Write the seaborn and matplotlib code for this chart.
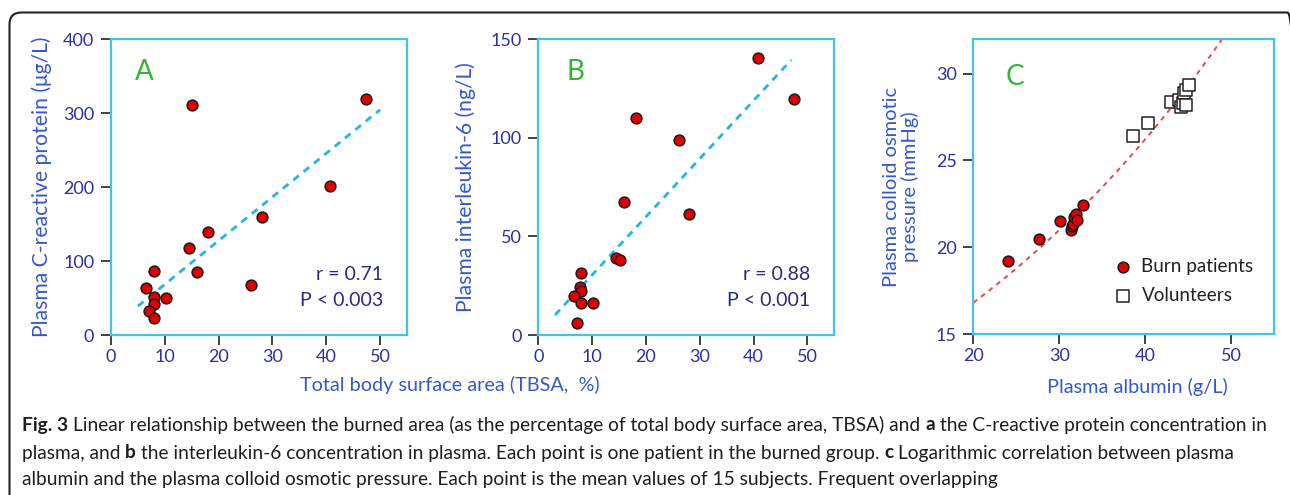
import numpy as np
import matplotlib
matplotlib.use("Agg")
import matplotlib.pyplot as plt
import seaborn as sns
from matplotlib.patches import FancyBboxPatch
from matplotlib.transforms import Affine2D

# ---------------- data ----------------
tbsa_a = [15.1, 47.4, 40.7, 28.0, 18.1, 14.5, 8.0, 15.9, 26.0, 6.5, 8.0, 10.2, 8.0, 7.1, 8.0]
crp_a = [311, 319, 202, 159, 139, 118, 87, 85, 67, 64, 52, 50, 42, 32, 23]
fit_a_range = [5, 50]
fit_a_slope, fit_a_intercept = 5.9, 9.5
stats_a = ["r = 0.71", "P < 0.003"]

tbsa_b = [40.9, 47.5, 18.1, 26.1, 16.0, 28.0, 14.5, 15.2, 7.9, 7.7, 8.0, 6.6, 7.9, 10.1, 7.1]
il6_b = [140.2, 119.8, 110.1, 98.8, 67.4, 61.3, 39.2, 37.8, 31.3, 24.3, 22.5, 19.6, 16.4, 16.4, 6.0]
fit_b_range = [3.1, 47.0]
fit_b_slope, fit_b_intercept = 2.945, 1.0
stats_b = ["r = 0.88", "P < 0.001"]

alb_burn = [24.0, 27.6, 30.1, 31.4, 31.5, 31.6, 31.7, 32.0, 32.1, 32.8]
cop_burn = [19.22, 20.48, 21.5, 21.0, 21.2, 21.35, 21.77, 21.92, 21.58, 22.45]
alb_vol = [38.6, 40.3, 43.0, 44.0, 44.2, 44.4, 44.5, 44.8, 44.8, 45.1]
cop_vol = [26.4, 27.17, 28.38, 28.5, 28.07, 28.3, 28.9, 28.2, 29.05, 29.37]
fit_c_range = [20, 49.1]
fit_c_a, fit_c_b = 10.77, 0.02224

xlabel_ab = "Total body surface area (TBSA,  %)"
ylabel_a = "Plasma C-reactive protein (μg/L)"
ylabel_b = "Plasma interleukin-6 (ng/L)"
ylabel_c = "Plasma colloid osmotic\npressure (mmHg)"
xlabel_c = "Plasma albumin (g/L)"
legend_labels = ["Burn patients", "Volunteers"]
panel_letters = ["A", "B", "C"]
caption_lines = [
    [("Fig. 3", "bold"), ("Linear relationship between the burned area (as the percentage of total body surface area, TBSA) and", "normal"),
     ("a", "bold"), ("the C-reactive protein concentration in", "normal")],
    [("plasma, and", "normal"), ("b", "bold"),
     ("the interleukin-6 concentration in plasma. Each point is one patient in the burned group.", "normal"),
     ("c", "bold"), ("Logarithmic correlation between plasma", "normal")],
    [("albumin and the plasma colloid osmotic pressure. Each point is the mean values of 15 subjects. Frequent overlapping", "normal")],
]

# ---------------- style ----------------
sns.set_theme(style="white")
plt.rcParams["font.family"] = ["Lato", "DejaVu Sans"]

W, H = 1290, 495
fig = plt.figure(figsize=(W / 100, H / 100), dpi=100)

TICKLAB = "#2e2ea6"
AXLAB = "#3558cc"
FRAME = "#42c3ec"
LETTER = "#2db82d"
STATS = "#2a2a80"
RED = "#e00000"


def px_axes(left, top, right, bottom):
    return fig.add_axes([left / W, 1 - bottom / H, (right - left) / W, (bottom - top) / H])


axA = px_axes(111, 39, 407, 335)
axB = px_axes(538.3, 39, 834.3, 335)
axC = px_axes(973.3, 39, 1274, 334)


def style_axes(ax):
    for sp in ax.spines.values():
        sp.set_color(FRAME)
        sp.set_linewidth(1.6)
        sp.set_visible(True)
    ax.tick_params(axis="both", direction="out", length=7, width=1.3, color="#333333",
                   labelcolor=TICKLAB, labelsize=13, pad=3, bottom=True, left=True)
    ax.tick_params(axis="y", pad=5)
    ax.set_facecolor("white")
    ax.grid(False)


marker_kw = dict(s=60, color=RED, edgecolor="#1a1a1a", linewidth=1.1, zorder=3)

# Panel A
sns.scatterplot(x=tbsa_a, y=crp_a, ax=axA, **marker_kw)
xa = np.array(fit_a_range)
sns.lineplot(x=xa, y=fit_a_slope * xa + fit_a_intercept, ax=axA, color="#22b5e6",
             linewidth=2.0, linestyle=(0, (2.6, 2.2)), zorder=2)
axA.set_xlim(0, 55)
axA.set_ylim(0, 400)
axA.set_xticks([0, 10, 20, 30, 40, 50])
axA.set_yticks([0, 100, 200, 300, 400])

# Panel B
sns.scatterplot(x=tbsa_b, y=il6_b, ax=axB, **marker_kw)
xb = np.array(fit_b_range)
sns.lineplot(x=xb, y=fit_b_slope * xb + fit_b_intercept, ax=axB, color="#22b5e6",
             linewidth=2.0, linestyle=(0, (2.6, 2.2)), zorder=2)
axB.set_xlim(0, 55)
axB.set_ylim(0, 150)
axB.set_xticks([0, 10, 20, 30, 40, 50])
axB.set_yticks([0, 50, 100, 150])

# Panel C
xc = np.linspace(fit_c_range[0], fit_c_range[1], 100)
sns.lineplot(x=xc, y=fit_c_a * np.exp(fit_c_b * xc), ax=axC, color="#e8474a",
             linewidth=1.4, linestyle=(0, (2.5, 2.5)), zorder=2)
sns.scatterplot(x=alb_vol, y=cop_vol, ax=axC, marker="s", s=70, color="white",
                edgecolor="#222222", linewidth=1.1, zorder=3, label=legend_labels[1])
sns.scatterplot(x=alb_burn, y=cop_burn, ax=axC, label=legend_labels[0], **marker_kw)
axC.set_xlim(20, 55)
axC.set_ylim(15, 32)
axC.set_xticks([20, 30, 40, 50])
axC.set_yticks([15, 20, 25, 30])

for ax in (axA, axB, axC):
    style_axes(ax)
    ax.set_xlabel("")
    ax.set_ylabel("")

# labels
axA.set_ylabel(ylabel_a, color=AXLAB, fontsize=15.2, labelpad=8)
axB.set_ylabel(ylabel_b, color=AXLAB, fontsize=15.2, labelpad=10)
axC.set_ylabel(ylabel_c, color=AXLAB, fontsize=14.5, labelpad=12, linespacing=1.05)
fig.text(450 / W, 1 - 385 / H, xlabel_ab, color=AXLAB, fontsize=14.3, ha="center", va="center")
fig.text(1137 / W, 1 - 387 / H, xlabel_c, color=AXLAB, fontsize=14.3, ha="center", va="center")

# panel letters
for ax, letter, (lx, ly) in zip((axA, axB, axC), panel_letters,
                                ((0.081, 0.889), (0.094, 0.889), (0.108, 0.872))):
    ax.text(lx, ly, letter, transform=ax.transAxes, color=LETTER, fontsize=20,
            ha="left", va="center")

# stats text
for ax, st in ((axA, stats_a), (axB, stats_b)):
    ax.text(0.92, 0.203, st[0], transform=ax.transAxes, color=STATS, fontsize=14,
            ha="right", va="center")
    ax.text(0.92, 0.118, st[1], transform=ax.transAxes, color=STATS, fontsize=14,
            ha="right", va="center")

# legend C
h, l = axC.get_legend_handles_labels()
order = [l.index(legend_labels[0]), l.index(legend_labels[1])]
leg = axC.legend([h[i] for i in order], [l[i] for i in order], loc="center left",
                 bbox_to_anchor=(0.44, 0.18), frameon=False, fontsize=13.6,
                 handletextpad=0.5, labelspacing=0.6, handlelength=1.0, borderaxespad=0)
for t in leg.get_texts():
    t.set_color("#222222")

# outer rounded frame
tr = Affine2D().scale(1 / W, 1 / H) + fig.transFigure
box = FancyBboxPatch((9.5, -40), 1290, 495 - 12.5 + 40,
                     boxstyle="round,pad=0,rounding_size=12", transform=tr,
                     facecolor="none", edgecolor="#222222", linewidth=1.5)
fig.add_artist(box)

# caption (font size fitted so the first line spans the same width as the reference)
renderer = fig.canvas.get_renderer()
cap_font = ["Lato", "DejaVu Sans"]


def text_w(s, weight, size):
    t = fig.text(0, 0, s, fontsize=size, fontweight=weight, family=cap_font)
    w = t.get_window_extent(renderer).width
    t.remove()
    return w


def line_w(line, size):
    sp = text_w("x x", "normal", size) - text_w("xx", "normal", size)
    return sum(text_w(s, wt, size) for s, wt in line) + sp * (len(line) - 1)


cap_size = 13.0
cap_size *= (1266 - 22) / line_w(caption_lines[0], cap_size)
space_w = text_w("x x", "normal", cap_size) - text_w("xx", "normal", cap_size)
for line, yc in zip(caption_lines, (425, 453, 480)):
    x = 22.0
    for s, weight in line:
        t = fig.text(x / W, 1 - yc / H, s, fontsize=cap_size, fontweight=weight,
                     family=cap_font, color="#1e1e1e", ha="left", va="center")
        x += t.get_window_extent(renderer).width + space_w

fig.savefig("out.png", dpi=100)
